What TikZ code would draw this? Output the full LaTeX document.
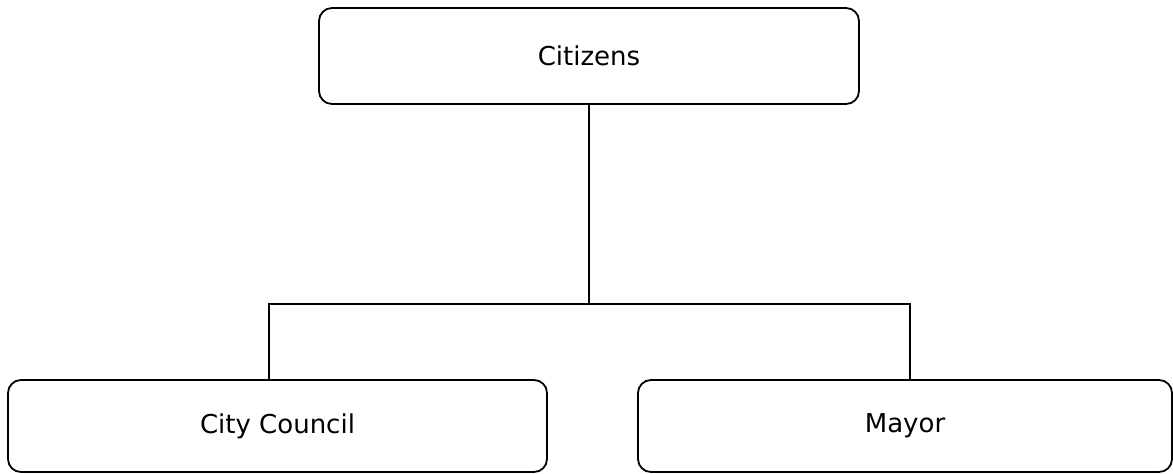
\documentclass[tikz,border=0pt]{standalone}
\usepackage{fontspec}
\setmainfont{DejaVu Sans}
\begin{document}
\begin{tikzpicture}[x=1pt,y=-1pt,
  box/.style={draw=black,line width=1.8pt,rounded corners=13pt,inner sep=0pt,
    font=\fontsize{26}{30}\selectfont},
  conn/.style={draw=black,line width=1.8pt}]
\useasboundingbox (0,0) rectangle (1173,474);
\node[box,minimum width=540pt,minimum height=96pt] (cit) at (589,56) {Citizens};
\node[box,minimum width=539pt,minimum height=92pt] (cc) at (277.5,426) {City Council};
\node[box,minimum width=534pt,minimum height=92pt] (may) at (905,426) {Mayor};
\coordinate (j) at (589,304);
\draw[conn] (cit.south) -- (j);
\draw[conn] (cc.north -| 269,0) |- (j) -| (may.north -| 910,0);
\end{tikzpicture}
\end{document}
